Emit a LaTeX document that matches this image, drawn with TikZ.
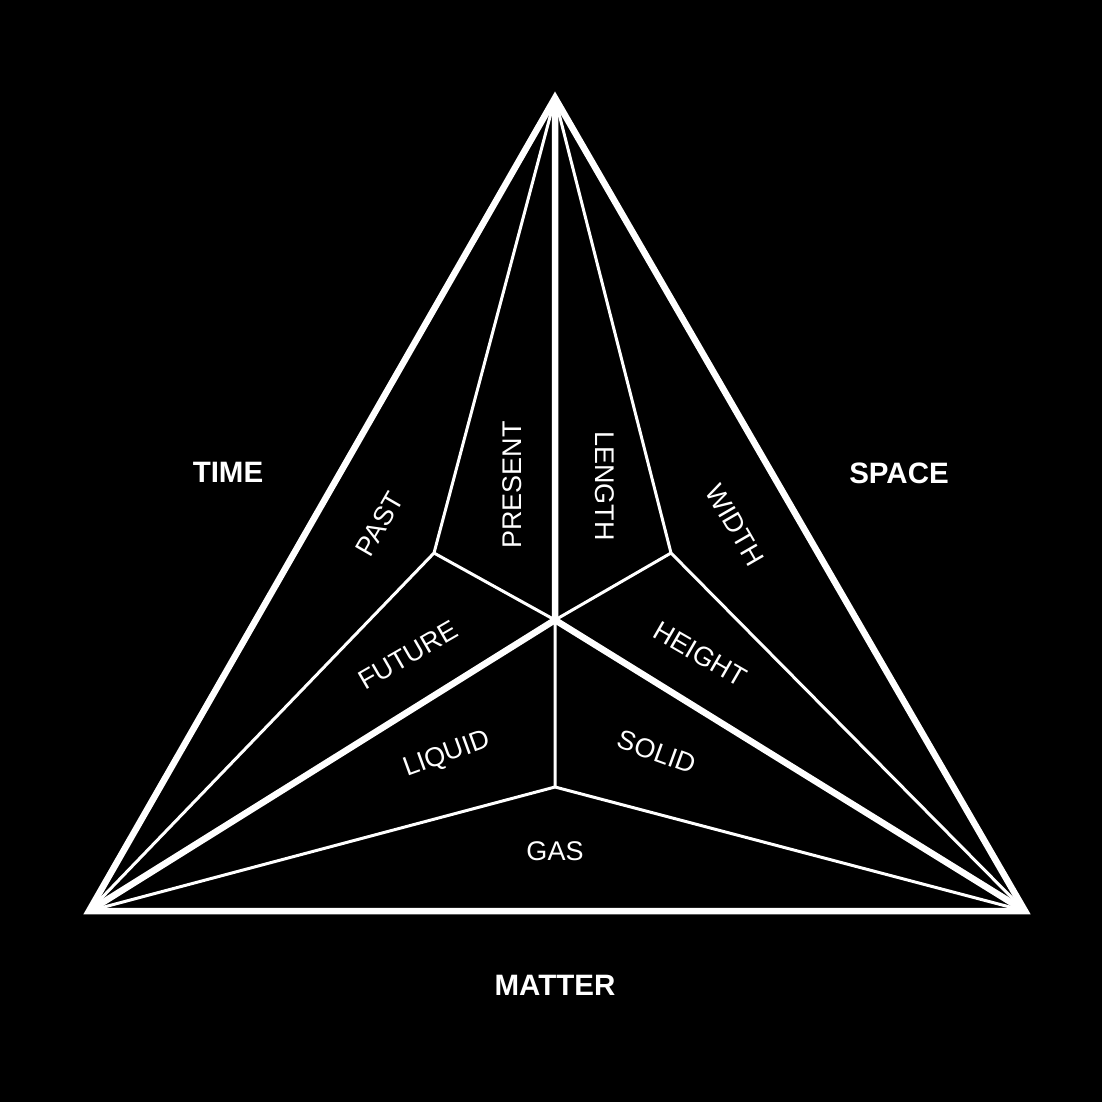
\documentclass[tikz,border=0pt]{standalone}
\usepackage{fontspec}
\setmainfont{Liberation Sans}
\begin{document}
\begin{tikzpicture}[x=1pt,y=-1pt,
 thick line/.style={white,line width=6.5pt,line join=miter},
 thin line/.style={white,line width=3pt},
 lab/.style={white,inner sep=1pt,font=\fontsize{27}{27}\selectfont},
 big/.style={white,font=\fontsize{29.5}{29.5}\selectfont\bfseries}]
\fill[black] (0,0) rectangle (1102,1102);
\useasboundingbox (0,0) rectangle (1102,1102);
\coordinate (T) at (555,98);
\coordinate (L) at (89,911);
\coordinate (R) at (1025,911);
\coordinate (C) at (555,620);
\coordinate (P) at (434,553);
\coordinate (Q) at (671,553);
\coordinate (S) at (555,787);
\draw[thin line] (T)--(P)--(L) (P)--(C);
\draw[thin line] (T)--(Q)--(R) (Q)--(C);
\draw[thin line] (L)--(S)--(R) (S)--(C);
\draw[thick line] (T)--(C) (L)--(C) (R)--(C);
\draw[thick line] (T)--(L)--(R)--cycle;
\node[lab,rotate=60] (past) at (380,524) {PAST};
\node[lab,rotate=90] (present) at (512,485) {PRESENT};
\node[lab,rotate=-90] (length) at (605,486) {LENGTH};
\node[lab,rotate=-60] (width) at (735,525) {WIDTH};
\node[lab,rotate=30] (future) at (408,655) {FUTURE};
\node[lab,rotate=-30] (height) at (700,654) {HEIGHT};
\node[lab,rotate=20] (liquid) at (447,755) {LIQUID};
\node[lab,rotate=-20] (solid) at (657,752) {SOLID};
\node[lab] (gas) at (555,851) {GAS};
\node[big] (time) at (228,472) {TIME};
\node[big] (space) at (899,473) {SPACE};
\node[big] (matter) at (555,985) {MATTER};
\end{tikzpicture}
\end{document}
